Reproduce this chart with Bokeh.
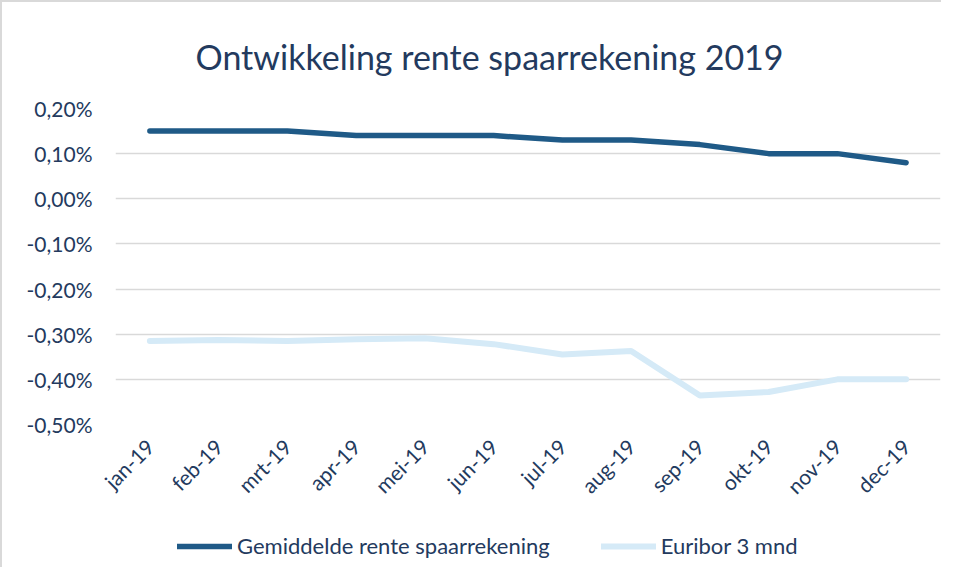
from bokeh.plotting import figure
from bokeh.layouts import column
from bokeh.models import FactorRange, Range1d, FixedTicker, CustomJSTickFormatter, Legend, LegendItem, ColumnDataSource
from bokeh.embed import file_html
from bokeh.resources import INLINE
import math

months = ["jan-19", "feb-19", "mrt-19", "apr-19", "mei-19", "jun-19",
          "jul-19", "aug-19", "sep-19", "okt-19", "nov-19", "dec-19"]
gemiddelde = [0.15, 0.15, 0.15, 0.14, 0.14, 0.14, 0.13, 0.13, 0.12, 0.10, 0.10, 0.08]
euribor = [-0.315, -0.313, -0.315, -0.311, -0.309, -0.322, -0.345, -0.337, -0.436, -0.428, -0.400, -0.400]
y_ticks = [-0.5, -0.4, -0.3, -0.2, -0.1, 0.0, 0.1, 0.2]

TEXT = "#233a5e"
FONT = "Lato"
DARK = "#1f5a87"
LIGHT = "#d5eaf7"

src = ColumnDataSource(dict(m=months, g=gemiddelde, e=euribor))
xr = FactorRange(*months, range_padding=0)

p = figure(width=939, height=508, output_backend="svg", toolbar_location=None,
           x_range=xr, y_range=Range1d(-0.5, 0.2),
           min_border_left=113, min_border_right=1, min_border_top=106, min_border_bottom=80,
           title="Ontwikkeling rente spaarrekening 2019")
p.outline_line_color = None

p.title.align = "left"
p.title.offset = 80
p.title.standoff = 63
p.title.text_font = FONT
p.title.text_font_style = "normal"
p.title.text_font_size = "34px"
p.title.text_color = TEXT

p.xgrid.grid_line_color = None
p.ygrid.grid_line_color = "#d9d9d9"
p.ygrid.grid_line_width = 1.5
p.yaxis.ticker = FixedTicker(ticks=y_ticks)
p.yaxis.formatter = CustomJSTickFormatter(code="return tick.toFixed(2).replace('.', ',') + '%';")

for ax in (p.xaxis, p.yaxis):
    ax.axis_line_color = None
    ax.major_tick_line_color = None
    ax.minor_tick_line_color = None
    ax.major_tick_out = 0
    ax.major_tick_in = 0
    ax.major_label_text_font = FONT
    ax.major_label_text_font_size = "21px"
    ax.major_label_text_color = TEXT
p.yaxis.major_label_standoff = 23
p.xaxis.major_label_standoff = 18
p.xaxis.major_label_orientation = math.pi / 4

p.line("m", "g", source=src, line_color=DARK, line_width=5.5, line_cap="round", line_join="round")
p.line("m", "e", source=src, line_color=LIGHT, line_width=6, line_cap="round", line_join="round")

# legend strip (same series, plotted out of view so only the legend shows)
leg = figure(width=939, height=57, output_backend="svg", toolbar_location=None,
             x_range=xr, y_range=Range1d(10, 11),
             x_axis_location=None, y_axis_location=None,
             min_border_left=0, min_border_right=0, min_border_top=0, min_border_bottom=0)
leg.outline_line_color = None
leg.grid.grid_line_color = None
r1 = leg.line("m", "g", source=src, line_color=DARK, line_width=5.5, line_cap="round")
r2 = leg.line("m", "e", source=src, line_color=LIGHT, line_width=6, line_cap="round")

legend = Legend(items=[LegendItem(label="Gemiddelde rente spaarrekening", renderers=[r1]),
                       LegendItem(label="Euribor 3 mnd", renderers=[r2])],
                orientation="horizontal", location=(62, 8))
legend.label_text_font = FONT
legend.label_text_font_size = "22px"
legend.label_text_color = TEXT
legend.glyph_width = 55
legend.label_standoff = 5
legend.spacing = 51
legend.padding = 4
legend.margin = 0
legend.border_line_color = None
legend.background_fill_alpha = 0
leg.add_layout(legend, "center")

layout = column(p, leg, spacing=0,
                styles={"border-left": "2px solid #d9d9d9", "border-top": "2px solid #d9d9d9"})

open("out.html", "w").write(file_html(layout, INLINE))
